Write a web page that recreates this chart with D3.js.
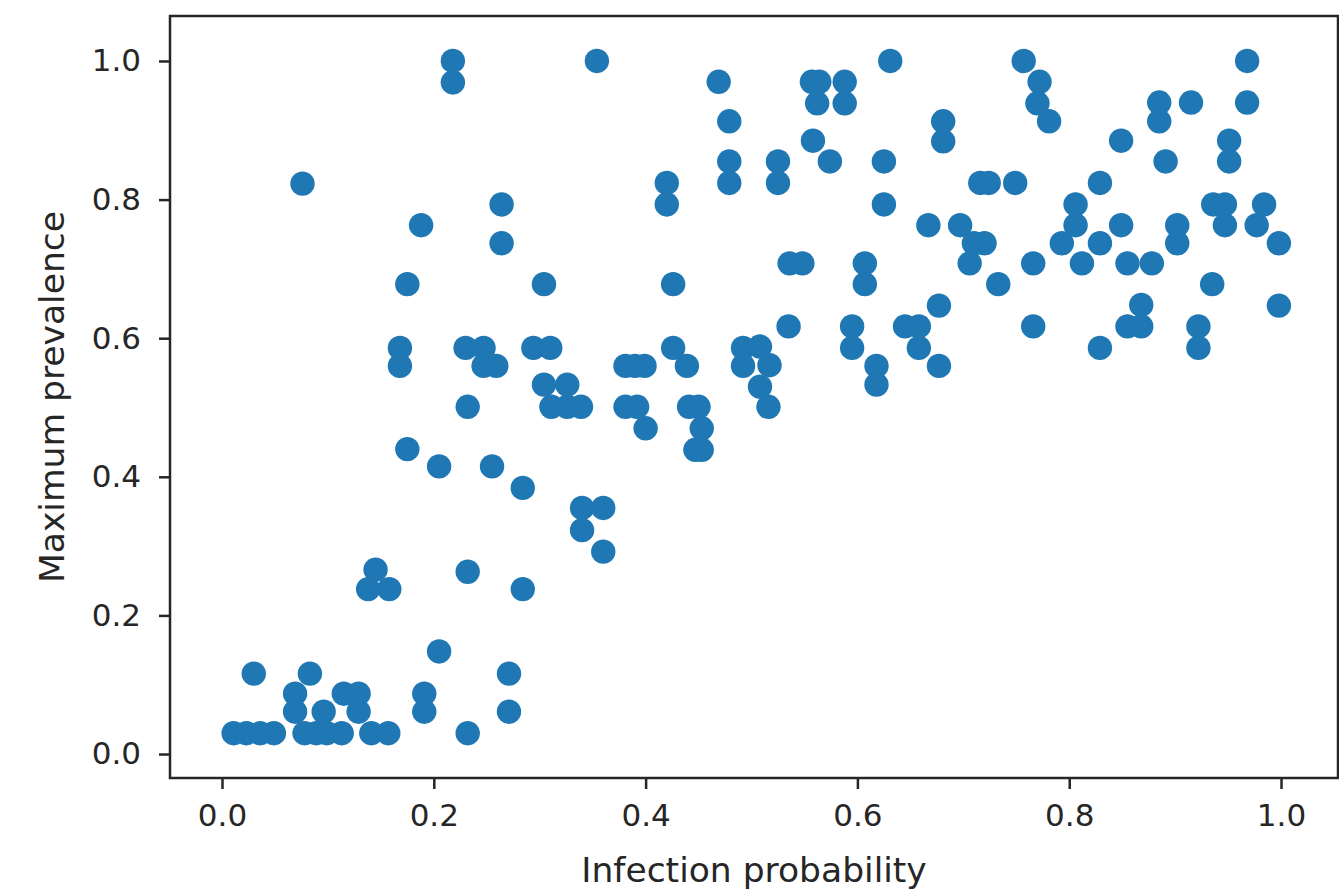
<!DOCTYPE html>
<html>
<head>
<meta charset="utf-8">
<script src="https://cdn.jsdelivr.net/npm/d3@7"></script>
<style>
  body { margin: 0; background: #fff; }
  svg { display: block; font-family: "DejaVu Sans", sans-serif; }
</style>
</head>
<body>
<script>
// infection probability (x) of each run
var infectionProb = [
  0.011, 0.023, 0.036, 0.049, 0.078, 0.089, 0.099, 0.113, 0.141, 0.157, 0.232,
  0.030, 0.083, 0.069, 0.069, 0.096, 0.115, 0.129, 0.129, 0.191, 0.191, 0.205, 0.271, 0.271,
  0.145, 0.138, 0.158, 0.232, 0.284,
  0.175, 0.205, 0.255, 0.284, 0.340, 0.360, 0.340, 0.360, 0.232,
  0.168, 0.168, 0.175, 0.188, 0.076, 0.218, 0.218,
  0.230, 0.247, 0.247, 0.259,
  0.264, 0.264, 0.304, 0.294, 0.310, 0.304, 0.326, 0.311, 0.326, 0.339,
  0.354,
  0.381, 0.390, 0.399, 0.381, 0.392, 0.400,
  0.420, 0.420, 0.426, 0.426, 0.439, 0.441, 0.450, 0.453, 0.447, 0.453,
  0.469, 0.479, 0.479, 0.479,
  0.492, 0.492, 0.508, 0.517, 0.508, 0.516,
  0.525, 0.525, 0.535, 0.536, 0.548,
  0.557, 0.564, 0.562, 0.558, 0.574, 0.588, 0.588,
  0.595, 0.595, 0.607, 0.607, 0.618, 0.618,
  0.625, 0.625, 0.631,
  0.645, 0.658, 0.658, 0.667, 0.677, 0.677, 0.681, 0.681,
  0.697, 0.710, 0.720, 0.706, 0.716, 0.724, 0.733, 0.749, 0.757,
  0.766, 0.766, 0.772, 0.770, 0.781,
  0.793, 0.806, 0.806, 0.812, 0.829, 0.829, 0.829, 0.849, 0.849, 0.855, 0.878, 0.855, 0.868, 0.868,
  0.885, 0.885, 0.891, 0.902, 0.902, 0.915, 0.922, 0.922, 0.935, 0.936, 0.947, 0.947, 0.951, 0.951,
  0.968, 0.968, 0.977, 0.984, 0.998, 0.998
];

// maximum prevalence (y) of each run
var maxPrevalence = [
  0.030, 0.030, 0.030, 0.030, 0.030, 0.030, 0.030, 0.030, 0.030, 0.030, 0.030,
  0.116, 0.116, 0.087, 0.061, 0.061, 0.087, 0.087, 0.061, 0.087, 0.061, 0.148, 0.116, 0.061,
  0.266, 0.238, 0.238, 0.263, 0.238,
  0.440, 0.415, 0.415, 0.384, 0.355, 0.355, 0.323, 0.292, 0.501,
  0.586, 0.560, 0.678, 0.763, 0.823, 1.000, 0.969,
  0.586, 0.586, 0.560, 0.560,
  0.793, 0.737, 0.678, 0.586, 0.586, 0.533, 0.533, 0.501, 0.501, 0.501,
  1.000,
  0.560, 0.560, 0.560, 0.501, 0.501, 0.470,
  0.824, 0.793, 0.678, 0.586, 0.560, 0.501, 0.501, 0.470, 0.439, 0.439,
  0.970, 0.913, 0.855, 0.824,
  0.586, 0.560, 0.588, 0.561, 0.530, 0.501,
  0.855, 0.824, 0.617, 0.708, 0.708,
  0.970, 0.970, 0.939, 0.885, 0.855, 0.970, 0.939,
  0.617, 0.586, 0.708, 0.678, 0.560, 0.533,
  0.855, 0.793, 1.000,
  0.617, 0.617, 0.586, 0.763, 0.647, 0.560, 0.913, 0.884,
  0.763, 0.737, 0.737, 0.708, 0.824, 0.824, 0.678, 0.824, 1.000,
  0.708, 0.617, 0.970, 0.939, 0.913,
  0.737, 0.793, 0.763, 0.708, 0.824, 0.737, 0.586, 0.885, 0.763, 0.708, 0.708, 0.617, 0.617, 0.648,
  0.940, 0.913, 0.855, 0.763, 0.737, 0.940, 0.617, 0.586, 0.678, 0.793, 0.793, 0.763, 0.885, 0.855,
  1.000, 0.940, 0.763, 0.793, 0.737, 0.647
];

// tick values for both axes
var xTicks = [0.0, 0.2, 0.4, 0.6, 0.8, 1.0];
var yTicks = [0.0, 0.2, 0.4, 0.6, 0.8, 1.0];

var width = 1339;
var height = 892;

// plot frame in pixels
var frameLeft = 170, frameRight = 1338, frameTop = 16, frameBottom = 778;

// build point objects from the two arrays
var points = infectionProb.map(function (d, i) {
  return { x: d, y: maxPrevalence[i] };
});

// scales with matplotlib-like margins around the data
var xScale = d3.scaleLinear().domain([-0.0491, 1.0538]).range([frameLeft, frameRight]);
var yScale = d3.scaleLinear().domain([-0.0346, 1.0649]).range([frameBottom, frameTop]);

var svg = d3.select("body").append("svg")
  .attr("width", width)
  .attr("height", height);

// scatter points
svg.append("g")
  .selectAll("circle")
  .data(points)
  .enter()
  .append("circle")
  .attr("cx", function (d) { return xScale(d.x); })
  .attr("cy", function (d) { return yScale(d.y); })
  .attr("r", 12.2)
  .attr("fill", "#1f77b4");

// x axis
var xAxis = d3.axisBottom(xScale)
  .tickValues(xTicks)
  .tickFormat(d3.format(".1f"))
  .tickSize(11)
  .tickPadding(15);

svg.append("g")
  .attr("class", "axis x")
  .attr("transform", "translate(0," + frameBottom + ")")
  .call(xAxis);

// y axis
var yAxis = d3.axisLeft(yScale)
  .tickValues(yTicks)
  .tickFormat(d3.format(".1f"))
  .tickSize(11)
  .tickPadding(18);

svg.append("g")
  .attr("class", "axis y")
  .attr("transform", "translate(" + frameLeft + ",0)")
  .call(yAxis);

// style the axes like matplotlib
svg.selectAll(".axis .domain").remove();
svg.selectAll(".axis line").attr("stroke", "#262626").attr("stroke-width", 2.5);
svg.selectAll(".axis text")
  .attr("fill", "#262626")
  .attr("font-size", 31)
  .attr("font-family", "DejaVu Sans");

// frame around the plot
svg.append("rect")
  .attr("x", frameLeft)
  .attr("y", frameTop)
  .attr("width", frameRight - frameLeft)
  .attr("height", frameBottom - frameTop)
  .attr("fill", "none")
  .attr("stroke", "#262626")
  .attr("stroke-width", 2.5);

// axis labels
svg.append("text")
  .attr("x", (frameLeft + frameRight) / 2)
  .attr("y", 882)
  .attr("text-anchor", "middle")
  .attr("font-size", 34.5)
  .attr("fill", "#262626")
  .text("Infection probability");

svg.append("text")
  .attr("transform", "translate(64," + (frameTop + frameBottom) / 2 + ") rotate(-90)")
  .attr("text-anchor", "middle")
  .attr("font-size", 34.5)
  .attr("fill", "#262626")
  .text("Maximum prevalence");
</script>
</body>
</html>
